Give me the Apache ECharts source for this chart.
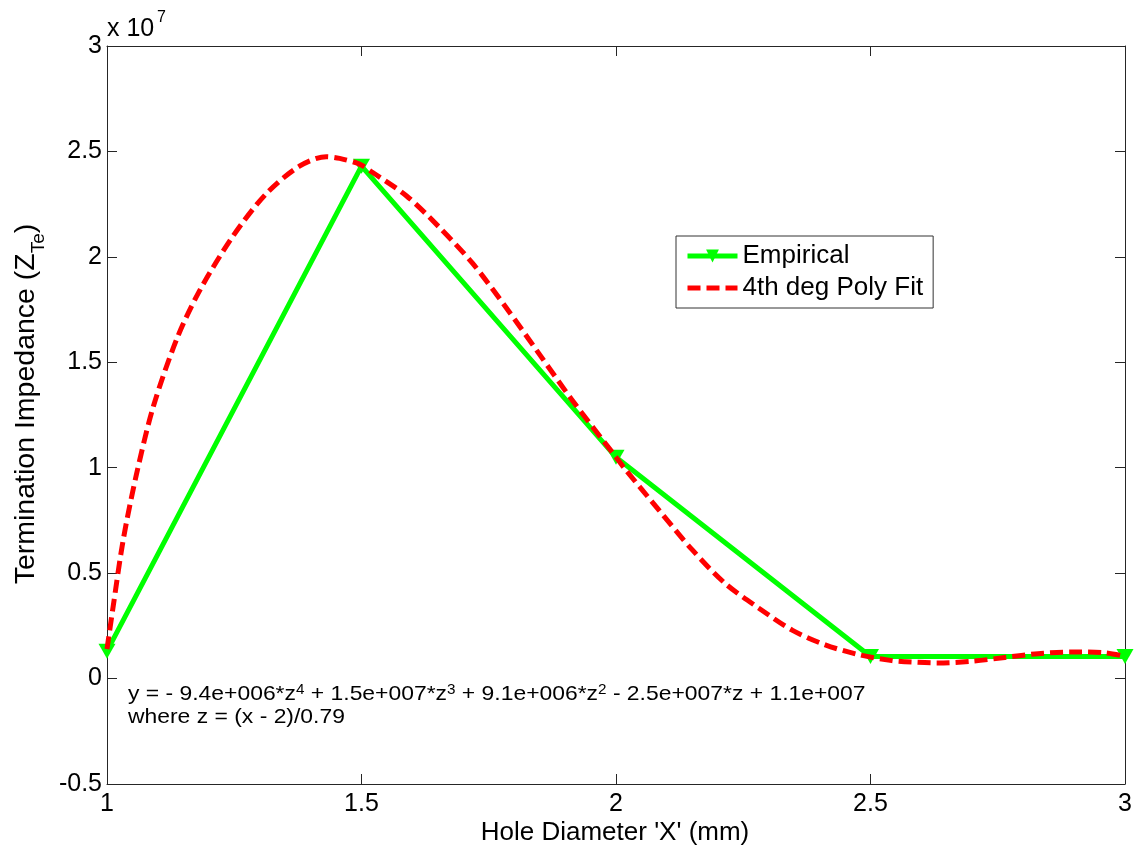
<!DOCTYPE html>
<html>
<head>
<meta charset="utf-8">
<title>Termination Impedance vs Hole Diameter</title>
<script src="https://cdn.jsdelivr.net/npm/echarts@6/dist/echarts.min.js"></script>
<style>
  html, body { margin: 0; padding: 0; background: #ffffff; }
  #chart { width: 1137px; height: 848px; }
</style>
</head>
<body>
<div id="chart"></div>
<script>
// Hole diameter of each measured sample (mm)
const holeDiameter = [1, 1.5, 2, 2.5, 3];
// Measured termination impedance, in units of 1e7
const empiricalZ = [0.13, 2.43, 1.05, 0.105, 0.105];

// 4th degree polynomial fit, sampled along the diameter axis (mm)
const fitX = [1.000, 1.012, 1.032, 1.058, 1.091, 1.137, 1.182, 1.248, 1.313, 1.378,
              1.431, 1.457, 1.496, 1.522, 1.588, 1.653, 1.718, 1.784, 1.849, 1.914,
              2.000, 2.019, 2.084, 2.150, 2.215, 2.280, 2.346, 2.411, 2.476, 2.542,
              2.568, 2.633, 2.699, 2.764, 2.829, 2.895, 2.960, 3.000];
// Fitted impedance at each fitX, in units of 1e7
const fitZ = [0.14, 0.34, 0.66, 0.97, 1.29, 1.61, 1.84, 2.10, 2.30, 2.43,
              2.475, 2.467, 2.44, 2.40, 2.29, 2.14, 1.97, 1.76, 1.54, 1.32,
              1.05, 0.99, 0.80, 0.61, 0.45, 0.335, 0.23, 0.16, 0.114, 0.085,
              0.08, 0.074, 0.082, 0.10, 0.118, 0.126, 0.122, 0.105];

// Axis tick values
const xTicks = [1, 1.5, 2, 2.5, 3];
const yTicks = [-0.5, 0, 0.5, 1, 1.5, 2, 2.5, 3];

const seriesNames = ['Empirical', '4th deg Poly Fit'];
const xTitle = "Hole Diameter 'X' (mm)";
const eqLine1 = [['y = - 9.4e+006*z', '4'], [' + 1.5e+007*z', '3'], [' + 9.1e+006*z', '2'], [' - 2.5e+007*z + 1.1e+007', '']];
const eqLine2 = 'where z = (x - 2)/0.79';

const FONT = '"Liberation Sans", Arial, Helvetica, sans-serif';
const AXIS_COLOR = '#262626';
const GREEN = '#00ff00';
const RED = '#ff0000';
const DASH = [13, 6];

const fmt = v => String(+(+v).toFixed(2));

const baseX = {
  type: 'value',
  min: xTicks[0],
  max: xTicks[xTicks.length - 1],
  interval: xTicks[1] - xTicks[0],
  splitLine: { show: false },
  axisLine: { show: true, onZero: false, lineStyle: { color: AXIS_COLOR, width: 1 } },
  axisTick: { show: true, inside: true, length: 10, lineStyle: { color: AXIS_COLOR } }
};
const baseY = {
  type: 'value',
  min: yTicks[0],
  max: yTicks[yTicks.length - 1],
  interval: yTicks[1] - yTicks[0],
  splitLine: { show: false },
  axisLine: { show: true, onZero: false, lineStyle: { color: AXIS_COLOR, width: 1 } },
  axisTick: { show: true, inside: true, length: 10, lineStyle: { color: AXIS_COLOR } }
};

const eqRich = eqLine1.map(([t, p]) => '{t|' + t + '}' + (p ? '{p|' + p + '}' : '')).join('') +
               '\n{t|' + eqLine2 + '}';

const chart = echarts.init(document.getElementById('chart'), null, { renderer: 'canvas' });

chart.setOption({
  backgroundColor: '#ffffff',
  animation: false,
  textStyle: { fontFamily: FONT },
  grid: { left: 107, right: 12, top: 46, bottom: 64, containLabel: false },
  xAxis: [
    Object.assign({}, baseX, {
      position: 'bottom',
      axisLabel: { show: true, margin: 8, color: '#000', fontSize: 25, fontFamily: FONT, formatter: fmt }
    }),
    Object.assign({}, baseX, { position: 'top', axisLabel: { show: false } })
  ],
  yAxis: [
    Object.assign({}, baseY, {
      position: 'left',
      axisLabel: { show: true, margin: 5, color: '#000', fontSize: 25, fontFamily: FONT, formatter: fmt }
    }),
    Object.assign({}, baseY, { position: 'right', axisLabel: { show: false } })
  ],
  legend: {
    data: [
      { name: seriesNames[0], lineStyle: { color: GREEN, width: 5 }, itemStyle: { color: GREEN } },
      { name: seriesNames[1], lineStyle: { color: RED, width: 5, type: DASH }, itemStyle: { opacity: 0 } }
    ],
    orient: 'vertical',
    left: 676,
    top: 236,
    padding: [6, 10, 6, 9],
    itemWidth: 50,
    itemHeight: 16,
    itemGap: 4,
    backgroundColor: '#ffffff',
    borderColor: '#333333',
    borderWidth: 1,
    borderRadius: 0,
    textStyle: { color: '#000', fontSize: 26, fontFamily: FONT, lineHeight: 28 }
  },
  series: [
    {
      name: seriesNames[0],
      type: 'line',
      xAxisIndex: 0,
      yAxisIndex: 0,
      data: holeDiameter.map((x, i) => [x, empiricalZ[i]]),
      symbol: 'triangle',
      symbolRotate: 180,
      symbolSize: [17, 15],
      itemStyle: { color: GREEN },
      lineStyle: { color: GREEN, width: 5 },
      z: 2
    },
    {
      name: seriesNames[1],
      type: 'line',
      xAxisIndex: 0,
      yAxisIndex: 0,
      data: fitX.map((x, i) => [x, fitZ[i]]),
      symbol: 'none',
      smooth: 0.3,
      itemStyle: { color: RED },
      lineStyle: { color: RED, width: 5, type: DASH, cap: 'butt', join: 'round' },
      z: 3
    }
  ],
  graphic: [
    // exponent marker above the value axis
    { type: 'text', x: 107, y: 29.5, style: { text: 'x 10', font: '25px ' + FONT, fill: '#000', verticalAlign: 'middle', align: 'left' } },
    { type: 'text', x: 157, y: 17.5, style: { text: '7', font: '16px ' + FONT, fill: '#000', verticalAlign: 'middle', align: 'left' } },
    // value axis title with subscript
    {
      type: 'text', x: 26, y: 404, rotation: Math.PI / 2,
      style: {
        text: '{a|Termination Impedance (Z}{s|Te}{a|)}',
        align: 'center', verticalAlign: 'middle', fill: '#000',
        rich: {
          a: { fontSize: 28.5, fontFamily: FONT, lineHeight: 44, fill: '#000' },
          s: { fontSize: 19, fontFamily: FONT, lineHeight: 16, verticalAlign: 'bottom', fill: '#000' }
        }
      }
    },
    // diameter axis title
    { type: 'text', x: 615, y: 833, style: { text: xTitle, font: '26px ' + FONT, fill: '#000', align: 'center', verticalAlign: 'middle' } },
    // fit equation
    {
      type: 'text', x: 128, y: 683, scaleX: 1.09,
      style: {
        text: eqRich, align: 'left', verticalAlign: 'top', fill: '#000',
        rich: {
          t: { fontSize: 21, fontFamily: FONT, lineHeight: 23, fill: '#000' },
          p: { fontSize: 14, fontFamily: FONT, lineHeight: 8, verticalAlign: 'top', fill: '#000' }
        }
      }
    }
  ]
});
</script>
</body>
</html>
